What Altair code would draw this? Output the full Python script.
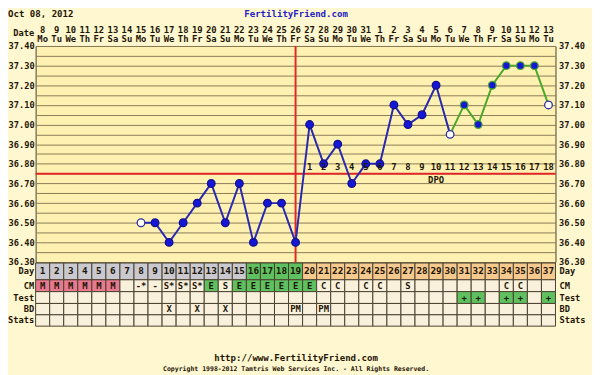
import altair as alt
import pandas as pd

# ------------------------------------------------------------------ data
cycle_days = list(range(1, 38))
date_labels = [str(d) for d in list(range(8, 32)) + list(range(1, 14))]
weekday_labels = (["Mo", "Tu", "We", "Th", "Fr", "Sa", "Su"] * 6)[:37]

temp_days = list(range(8, 38))
temps = [36.50, 36.50, 36.40, 36.50, 36.60, 36.70, 36.50, 36.70, 36.40, 36.60,
         36.60, 36.40, 37.00, 36.80, 36.90, 36.70, 36.80, 36.80, 37.10, 37.00,
         37.05, 37.20, 36.95, 37.10, 37.00, 37.20, 37.30, 37.30, 37.30, 37.10]
open_days = [8, 30, 37]
green_from_day = 30

phases = ["low"] * 15 + ["fertile"] * 4 + ["luteal"] * 18
cm_codes = ["M"] * 6 + ["", "-*", "-", "S*", "S*", "S*", "E", "S", "E", "E", "E", "E", "E", "E",
                        "C", "C", "", "C", "C", "", "S", "", "", "", "", "", "", "C", "C", "", ""]
test_codes = [""] * 30 + ["+", "+", "", "+", "+", "", "+"]
bd_codes = [""] * 9 + ["X", "", "X", "", "X", "", "", "", "", "PM", "", "PM"] + [""] * 16

coverline = [36.75]
ovulation_day = [19]
dpo_days = list(range(20, 38))
dpo_labels = [str(i) for i in range(1, 19)]
dpo_marker_day = [29]

# ------------------------------------------------------------------ style
FONT = "DejaVu Sans Mono"
FS = 9
PAGE_BG = "#FFF7CF"
PLOT_BG = "#FFF1B2"
GRID = "#8A7B56"
BORDER = "#4A4030"
CELL = "#FAF1DC"
LINE_BLUE = "#2A2AB0"
LINE_GREEN = "#4AA82A"
DOT_BLUE = "#1616D8"
RED = "#E02828"
TXT = "#1E1608"

W, H = 527, 219

xs = alt.Scale(domain=[0.5, 37.5], nice=False, zero=False)
ys = alt.Scale(domain=[36.30, 37.40], nice=False, zero=False)
yvals = [round(36.30 + 0.05 * i, 2) for i in range(23)]
xvals = [i + 0.5 for i in range(38)]
lab_expr = "round(datum.value*100) % 10 == 0 ? format(datum.value, '.2f') : ''"

left_axis = alt.Axis(values=yvals, grid=True, gridColor=GRID, gridOpacity=1, gridWidth=1,
                     ticks=False, domain=False, title=None, labelExpr=lab_expr,
                     labelFont=FONT, labelFontSize=8.8, labelFontWeight="bold",
                     labelColor=TXT, labelPadding=1.5, labelOverlap=False, orient="left")
right_axis = alt.Axis(values=yvals, grid=False, ticks=False, domain=False, title=None,
                      labelExpr=lab_expr, labelFont=FONT, labelFontSize=8.8,
                      labelFontWeight="bold", labelColor=TXT, labelPadding=3,
                      labelOverlap=False, orient="right")
x_axis = alt.Axis(values=xvals, grid=True, gridColor=GRID, gridOpacity=1, gridWidth=1,
                  labels=False, ticks=False, domain=False, title=None)

table = pd.DataFrame({"day": cycle_days, "date": date_labels, "wd": weekday_labels,
                      "phase": phases, "cm": cm_codes, "test": test_codes, "bd": bd_codes})

temp_df = pd.DataFrame({"day": temp_days, "temp": temps})
temp_df["state"] = ["open" if d in open_days else ("green" if d > green_from_day else "blue")
                    for d in temp_days]
line_df = pd.concat([temp_df[temp_df.day <= green_from_day].assign(seg="pre"),
                     temp_df[temp_df.day >= green_from_day].assign(seg="post")])

layers = []

# red ovulation / coverline
layers.append(alt.Chart(pd.DataFrame({"temp": coverline})).mark_rule(color=RED, strokeWidth=2)
              .encode(y=alt.Y("temp:Q", scale=ys, axis=left_axis)))
layers.append(alt.Chart(pd.DataFrame({"day": ovulation_day})).mark_rule(color=RED, strokeWidth=2)
              .encode(x=alt.X("day:Q", scale=xs, axis=x_axis)))

# temperature line
layers.append(alt.Chart(line_df).mark_line(strokeWidth=2)
              .encode(x=alt.X("day:Q", scale=xs, axis=None),
                      y=alt.Y("temp:Q", scale=ys, axis=None),
                      color=alt.Color("seg:N", scale=alt.Scale(domain=["pre", "post"],
                                      range=[LINE_BLUE, LINE_GREEN]), legend=None),
                      detail="seg:N"))
# points
layers.append(alt.Chart(temp_df).mark_point(shape="circle", size=60, filled=True, opacity=1,
                                            strokeWidth=1.3)
              .encode(x=alt.X("day:Q", scale=xs, axis=None),
                      y=alt.Y("temp:Q", scale=ys, axis=right_axis),
                      fill=alt.Fill("state:N", scale=alt.Scale(domain=["blue", "green", "open"],
                                    range=[DOT_BLUE, DOT_BLUE, "#FFFFFF"]), legend=None),
                      stroke=alt.Stroke("state:N", scale=alt.Scale(domain=["blue", "green", "open"],
                                        range=["#12128A", LINE_GREEN, "#3030A0"]), legend=None)))

# DPO labels
dpo_df = pd.DataFrame({"day": dpo_days, "label": dpo_labels})
layers.append(alt.Chart(dpo_df).mark_text(font=FONT, fontSize=FS, fontWeight="bold", color=TXT)
              .encode(x=alt.X("day:Q", scale=xs, axis=None), y=alt.value(123), text="label:N"))
layers.append(alt.Chart(pd.DataFrame({"day": dpo_marker_day, "label": ["DPO"]}))
              .mark_text(font=FONT, fontSize=FS, fontWeight="bold", color=TXT)
              .encode(x=alt.X("day:Q", scale=xs, axis=None), y=alt.value(136), text="label:N"))

# header date / weekday rows
layers.append(alt.Chart(table).mark_text(font=FONT, fontSize=FS, fontWeight="bold", color=TXT)
              .encode(x=alt.X("day:Q", scale=xs, axis=None), y=alt.value(-16.5), text="date:N"))
layers.append(alt.Chart(table).mark_text(font=FONT, fontSize=FS, fontWeight="bold", color=TXT)
              .encode(x=alt.X("day:Q", scale=xs, axis=None), y=alt.value(-7.5), text="wd:N"))


def row_rect(y0, y1, field=None, domain=None, rng=None):
    enc = dict(x=alt.X("x0:Q", scale=xs, axis=None), x2="x1:Q",
               y=alt.value(y0), y2=alt.value(y1))
    if field is not None:
        enc["fill"] = alt.Fill(field, scale=alt.Scale(domain=domain, range=rng), legend=None)
        mk = dict(stroke=BORDER, strokeWidth=1)
    else:
        mk = dict(stroke=BORDER, strokeWidth=1, fill=CELL)
    return (alt.Chart(table)
            .transform_calculate(x0="datum.day - 0.5", x1="datum.day + 0.5",
                                 cmc="datum.cm == 'M' ? 'M' : (datum.cm == 'E' ? 'E' : 'o')",
                                 tc="datum.test == '+' ? 'p' : 'o'")
            .mark_rect(**mk).encode(**enc))


def row_text(yc, field, color=TXT, size=FS):
    return (alt.Chart(table).mark_text(font=FONT, fontSize=size, fontWeight="bold", color=color)
            .encode(x=alt.X("day:Q", scale=xs, axis=None), y=alt.value(yc), text=field))


rows = [("Day", 220, 237), ("CM", 237, 249), ("Test", 249, 261), ("BD", 261, 272.5),
        ("Stats", 272.5, 284)]

layers.append(row_rect(220, 237, "phase:N", ["low", "fertile", "luteal"],
                       ["#C9C9CF", "#5EC05E", "#F6C98E"]))
layers.append(row_rect(237, 249, "cmc:N", ["M", "E", "o"], ["#E8798E", "#5EC05E", CELL]))
layers.append(row_rect(249, 261, "tc:N", ["p", "o"], ["#5EC05E", CELL]))
layers.append(row_rect(261, 272.5))
layers.append(row_rect(272.5, 284))
layers.append(row_text(228.5, "day:N", size=9.5))
layers.append(row_text(243, "cm:N"))
layers.append(row_text(255, "test:N"))
layers.append(row_text(266.75, "bd:N"))


def label(txt, x, y, align, size=8.8, color=TXT, baseline="middle"):
    return (alt.Chart(pd.DataFrame({"t": [txt]}))
            .mark_text(font=FONT, fontSize=size, fontWeight="bold", color=color, align=align,
                       baseline=baseline)
            .encode(x=alt.value(x), y=alt.value(y), text="t:N"))


for name, y0, y1 in rows:
    yc = (y0 + y1) / 2
    layers.append(label(name, -1.5, yc, "right"))
    layers.append(label(name, W + 4, yc, "left"))
layers.append(label("Date", -1.5, -13.5, "right"))
layers.append(label("Oct 08, 2012", -28, -36, "left", size=9.2, baseline="top"))
layers.append(label("FertilityFriend.com", 264, -36, "center", size=9.2, color="#2222C8",
                    baseline="top"))
layers.append(label("http://www.FertilityFriend.com", 264, 316, "center", size=9.2))
layers.append(label("Copyright 1998-2012 Tamtris Web Services Inc. - All Rights Reserved.",
                    264, 327, "center", size=6.6))

chart = (alt.layer(*layers)
         .resolve_scale(fill="independent", stroke="independent", color="independent")
         .resolve_axis(y="independent")
         .properties(width=W, height=H, autosize=alt.AutoSizeParams(type="none"),
                     padding={"left": 28, "top": 36, "right": 37, "bottom": 112},
                     background=PAGE_BG)
         .configure_view(fill=PLOT_BG, stroke=BORDER, strokeWidth=1))

chart.save("out.html", embed_options={"renderer": "svg", "actions": False})
